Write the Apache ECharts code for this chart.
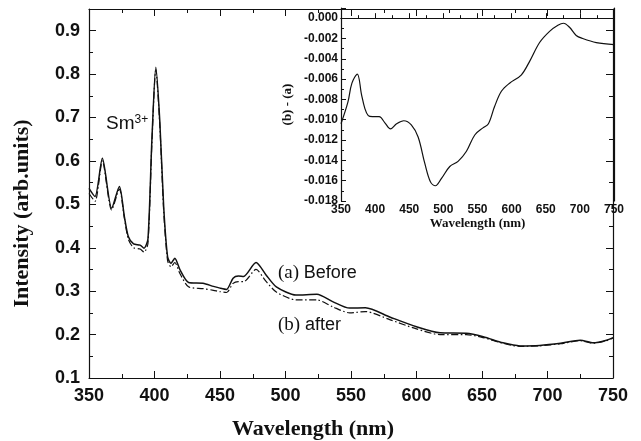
<!DOCTYPE html>
<html>
<head>
<meta charset="utf-8">
<script src="https://cdn.jsdelivr.net/npm/echarts@6/dist/echarts.min.js"></script>
<style>
  html, body { margin: 0; padding: 0; background: #fff; }
  #main { width: 641px; height: 441px; }
</style>
</head>
<body>
<div id="main"></div>
<script>
// main spectra
const wavelength = [350, 354.6, 360.2, 367.3, 373.2, 377, 380, 384, 389, 392, 395, 398, 401, 404, 407, 410, 412.6, 415.5, 419.5, 426, 437, 445, 450, 455, 460, 464, 468, 477.5, 485, 493, 508, 524, 536, 549, 561, 580, 600, 618, 638, 651, 666, 679, 694, 710, 725, 735, 745, 750]
const before = [0.537, 0.518, 0.606, 0.491, 0.541, 0.472, 0.426, 0.409, 0.406, 0.399, 0.42, 0.648, 0.816, 0.694, 0.495, 0.379, 0.364, 0.376, 0.349, 0.320, 0.318, 0.311, 0.307, 0.304, 0.330, 0.335, 0.334, 0.366, 0.338, 0.310, 0.291, 0.293, 0.276, 0.261, 0.262, 0.240, 0.218, 0.204, 0.203, 0.195, 0.181, 0.174, 0.175, 0.180, 0.187, 0.181, 0.187, 0.193]
const after = [0.525, 0.507, 0.600, 0.487, 0.535, 0.468, 0.420, 0.400, 0.397, 0.390, 0.410, 0.640, 0.810, 0.685, 0.485, 0.370, 0.356, 0.366, 0.340, 0.310, 0.306, 0.302, 0.299, 0.297, 0.318, 0.322, 0.322, 0.350, 0.323, 0.298, 0.280, 0.280, 0.264, 0.250, 0.253, 0.234, 0.213, 0.200, 0.200, 0.193, 0.180, 0.173, 0.174, 0.179, 0.186, 0.180, 0.186, 0.192]

// inset: (b) - (a)
const diffWavelength = [350, 360, 366, 373.9, 380, 385, 390, 396, 406, 414.3, 422.6, 431.4, 442, 453, 463, 472.8, 481, 488.4, 497, 509.4, 521.5, 533.8, 546, 558, 566, 575, 585, 597, 614, 626, 641, 655.6, 667.8, 676, 684.8, 694.6, 704, 724, 750]
const diffValues = [-0.0104, -0.0083, -0.0064, -0.0055, -0.0075, -0.0089, -0.0096, -0.0097, -0.0097, -0.0103, -0.0109, -0.0104, -0.0101, -0.0105, -0.0117, -0.0143, -0.0161, -0.0165, -0.0158, -0.0146, -0.0141, -0.0131, -0.0115, -0.0108, -0.0104, -0.0087, -0.0072, -0.0064, -0.0056, -0.0043, -0.0024, -0.0013, -0.0007, -0.0005, -0.0009, -0.0017, -0.0020, -0.0024, -0.0026]

const SANS = 'Liberation Sans'
const SERIF = 'Liberation Serif'
const black = '#111'

const pairs = (xs, ys) => xs.map((x, i) => [x, ys[i]])

const lineAxis = { show: true, lineStyle: { color: black, width: 1.2 } }
const mirrorAxis = (extra) => Object.assign({
  axisLine: lineAxis,
  axisLabel: { show: false },
  splitLine: { show: false },
  axisTick: { show: true, inside: true, length: 7, lineStyle: { color: black } },
  minorTick: { show: true, splitNumber: 2, length: 4, lineStyle: { color: black } }
}, extra)

const chart = echarts.init(document.getElementById('main'))
chart.setOption({
  backgroundColor: '#fff',
  animation: false,
  grid: [
    { left: 89, top: 9, right: 28, bottom: 63, outerBoundsMode: 'none' },
    { left: 341, top: 8, right: 27, bottom: 240, outerBoundsMode: 'none', show: true, backgroundColor: '#fff', borderWidth: 0, z: 1 }
  ],
  xAxis: [
    {
      gridIndex: 0, type: 'value', min: 350, max: 750, interval: 50,
      axisLine: lineAxis,
      axisTick: { inside: true, length: 7, lineStyle: { color: black } },
      minorTick: { show: true, splitNumber: 2, length: 4, lineStyle: { color: black } },
      splitLine: { show: false },
      axisLabel: { color: black, fontFamily: SANS, fontWeight: 'bold', fontSize: 18, margin: 9 },
      name: 'Wavelength (nm)', nameLocation: 'middle', nameGap: 40,
      nameTextStyle: { color: black, fontFamily: SERIF, fontWeight: 'bold', fontSize: 22, padding: [0, 76, 0, 0] }
    },
    mirrorAxis({ gridIndex: 0, type: 'value', min: 350, max: 750, interval: 50, position: 'top', z: 5 }),
    {
      gridIndex: 1, type: 'value', min: 350, max: 750, interval: 50, z: 3,
      axisLine: lineAxis,
      axisTick: { inside: true, length: 5, lineStyle: { color: black } },
      minorTick: { show: true, splitNumber: 2, length: 3, lineStyle: { color: black } },
      splitLine: { show: false },
      axisLabel: { color: black, fontFamily: SANS, fontWeight: 'bold', fontSize: 12, margin: 3 },
      name: 'Wavelength (nm)', nameLocation: 'middle', nameGap: 15,
      nameTextStyle: { color: black, fontFamily: SERIF, fontWeight: 'bold', fontSize: 13 }
    },
    { gridIndex: 1, type: 'value', min: 350, max: 750, position: 'top', z: 3,
      axisLine: lineAxis, axisTick: { show: false }, axisLabel: { show: false }, splitLine: { show: false } }
  ],
  yAxis: [
    {
      gridIndex: 0, type: 'value', min: 0.1, max: 0.95, interval: 0.1,
      axisLine: lineAxis,
      axisTick: { inside: true, length: 7, lineStyle: { color: black } },
      minorTick: { show: true, splitNumber: 2, length: 4, lineStyle: { color: black } },
      splitLine: { show: false },
      axisLabel: { color: black, fontFamily: SANS, fontWeight: 'bold', fontSize: 18, margin: 9, showMaxLabel: false,
        formatter: v => v.toFixed(1) },
      name: 'Intensity (arb.units)', nameLocation: 'middle', nameGap: 56,
      nameTextStyle: { color: black, fontFamily: SERIF, fontWeight: 'bold', fontSize: 22, padding: [0, 40, 0, 0] }
    },
    mirrorAxis({ gridIndex: 0, type: 'value', min: 0.1, max: 0.95, interval: 0.1, position: 'right', z: 5 }),
    {
      gridIndex: 1, type: 'value', min: -0.018, max: 0.001, interval: 0.002, z: 3,
      axisLine: lineAxis,
      axisTick: { inside: true, length: 5, lineStyle: { color: black } },
      minorTick: { show: true, splitNumber: 2, length: 3, lineStyle: { color: black } },
      splitLine: { show: false },
      axisLabel: { color: black, fontFamily: SANS, fontWeight: 'bold', fontSize: 12, margin: 3, showMaxLabel: false,
        formatter: v => (Math.abs(v) < 1e-9 ? 0 : v).toFixed(3) },
      name: '(b) - (a)', nameLocation: 'middle', nameGap: 47,
      nameTextStyle: { color: black, fontFamily: SERIF, fontWeight: 'bold', fontSize: 13 }
    },
    { gridIndex: 1, type: 'value', min: -0.018, max: 0.001, position: 'right', z: 3,
      axisLine: lineAxis, axisTick: { show: false }, axisLabel: { show: false }, splitLine: { show: false } }
  ],
  series: [
    {
      name: '(a) Before', type: 'line', xAxisIndex: 0, yAxisIndex: 0,
      data: pairs(wavelength, before), showSymbol: false, smooth: 0.25, z: 2,
      lineStyle: { color: black, width: 1.5 }
    },
    {
      name: '(b) after', type: 'line', xAxisIndex: 0, yAxisIndex: 0,
      data: pairs(wavelength, after), showSymbol: false, smooth: 0.25, z: 2,
      lineStyle: { color: black, width: 1.2, type: [7, 2.5, 1.5, 2.5] }
    },
    {
      name: 'diff', type: 'line', xAxisIndex: 2, yAxisIndex: 2,
      data: pairs(diffWavelength, diffValues), showSymbol: false, smooth: 0.35, z: 4,
      lineStyle: { color: black, width: 1.2 }
    }
  ],
  graphic: [
    {
      type: 'text', left: 106, top: 114, z: 10,
      style: {
        text: '{a|Sm}{b|3+}',
        rich: {
          a: { fontFamily: SANS, fontSize: 19, fill: black },
          b: { fontFamily: SANS, fontSize: 12, fill: black, verticalAlign: 'top', padding: [0, 0, 8, 0] }
        }
      }
    },
    {
      type: 'text', left: 278, top: 264, z: 10,
      style: {
        text: '{s|(a) }{t|Before}',
        rich: { s: { fontFamily: SERIF, fontSize: 19, fill: black }, t: { fontFamily: SANS, fontSize: 18, fill: black } }
      }
    },
    {
      type: 'text', left: 278, top: 316, z: 10,
      style: {
        text: '{s|(b) }{t|after}',
        rich: { s: { fontFamily: SERIF, fontSize: 19, fill: black }, t: { fontFamily: SANS, fontSize: 18, fill: black } }
      }
    }
  ]
})
</script>
</body>
</html>
